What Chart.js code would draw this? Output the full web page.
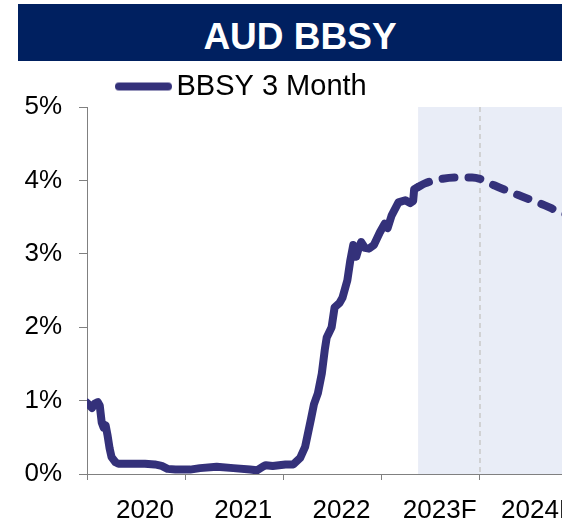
<!DOCTYPE html>
<html>
<head>
<meta charset="utf-8">
<script src="https://cdn.jsdelivr.net/npm/chart.js@4.4.0/dist/chart.umd.min.js"></script>
<style>
  html, body { margin: 0; padding: 0; overflow: hidden; background: #fff; }
  #wrap { position: relative; width: 620px; height: 524px; }
  #chart { position: absolute; left: 0; top: 0; }
  #banner {
    position: absolute; left: 18px; top: 4px; width: 564px; height: 57px;
    background: #002060; color: #fff; text-align: center; overflow: hidden;
    font: bold 37px "Liberation Sans", Arial, sans-serif;
  }
  #banner span { position: relative; top: 12px; }
</style>
</head>
<body>
<div id="wrap">
  <canvas id="chart" width="620" height="524"></canvas>
  <div id="banner"><span>AUD BBSY</span></div>
</div>
<script>
// actual BBSY 3M (x in years, y in %)
const histYears = [2020.00, 2020.03, 2020.05, 2020.08, 2020.11, 2020.13, 2020.15, 2020.17, 2020.19, 2020.21,
  2020.23, 2020.25, 2020.29, 2020.32, 2020.44, 2020.59, 2020.69, 2020.76, 2020.82, 2020.90,
  2021.05, 2021.15, 2021.32, 2021.49, 2021.66, 2021.73, 2021.79, 2021.82, 2021.89, 2022.02,
  2022.10, 2022.17, 2022.22, 2022.25, 2022.28, 2022.31, 2022.35, 2022.39, 2022.42, 2022.44,
  2022.49, 2022.52, 2022.57, 2022.60, 2022.65, 2022.68, 2022.71, 2022.74, 2022.76, 2022.79,
  2022.83, 2022.87, 2022.92, 2022.98, 2023.03, 2023.06, 2023.10, 2023.17, 2023.24, 2023.29,
  2023.32, 2023.33, 2023.37];
const histRates = [0.97, 0.93, 0.90, 0.96, 0.98, 0.93, 0.70, 0.63, 0.66, 0.52,
  0.35, 0.23, 0.16, 0.14, 0.14, 0.14, 0.13, 0.11, 0.07, 0.06,
  0.06, 0.08, 0.10, 0.08, 0.06, 0.05, 0.10, 0.12, 0.11, 0.13,
  0.13, 0.22, 0.37, 0.56, 0.75, 0.95, 1.10, 1.37, 1.69, 1.86,
  2.00, 2.27, 2.33, 2.40, 2.64, 2.91, 3.12, 2.96, 3.05, 3.16,
  3.08, 3.07, 3.12, 3.29, 3.41, 3.35, 3.52, 3.70, 3.73, 3.69,
  3.72, 3.88, 3.91];

// forecast path
const fcYears = [2023.37, 2023.44, 2023.57, 2023.75, 2023.92, 2024.00, 2024.15, 2024.39, 2024.66, 2024.83, 2025.10];
const fcRates = [3.91, 3.96, 4.01, 4.04, 4.04, 4.02, 3.93, 3.80, 3.66, 3.56, 3.46];

const yearTicks = [2020, 2021, 2022, 2023, 2024, 2025];
const yearLabels = ['2020', '2021', '2022', '2023F', '2024F'];
const forecastStart = 2023.37;
const forecastDivider = 2024;

const navy = '#34317A';
const fontFamily = '"Liberation Sans", Arial, sans-serif';
const labelShift = 0.59;

// legend swatch: thick rounded line
function legendLine() {
  const c = document.createElement('canvas');
  c.width = 57; c.height = 10;
  const g = c.getContext('2d');
  g.strokeStyle = navy;
  g.lineWidth = 8;
  g.lineCap = 'round';
  g.beginPath();
  g.moveTo(4, 5);
  g.lineTo(53, 5);
  g.stroke();
  return c;
}

// shaded forecast region + dashed divider
const forecastShade = {
  id: 'forecastShade',
  beforeDraw(chart) {
    const { ctx, chartArea, scales: { x } } = chart;
    const x0 = x.getPixelForValue(forecastStart);
    ctx.save();
    ctx.fillStyle = '#E9EDF7';
    ctx.fillRect(x0, chartArea.top, chartArea.right - x0, chartArea.bottom - chartArea.top);
    const xd = x.getPixelForValue(forecastDivider);
    ctx.strokeStyle = '#C8C8C8';
    ctx.lineWidth = 1.5;
    ctx.setLineDash([5, 4]);
    ctx.beginPath();
    ctx.moveTo(xd, chartArea.top);
    ctx.lineTo(xd, chartArea.bottom);
    ctx.stroke();
    ctx.restore();
  }
};

// fixed legend block height so the plot starts at the right place
const legendHeight = {
  id: 'legendHeight',
  beforeLayout(chart) {
    const lg = chart.legend;
    if (lg && !lg._fixedHeight) {
      const fit = lg.fit;
      lg.fit = function () { fit.call(this); this.height = 73; };
      lg._fixedHeight = true;
    }
  }
};

new Chart(document.getElementById('chart'), {
  type: 'line',
  data: {
    datasets: [{
      label: 'BBSY 3 Month',
      data: histYears.map((x, i) => ({ x: x, y: histRates[i] })),
      borderColor: navy,
      borderWidth: 8,
      borderCapStyle: 'round',
      borderJoinStyle: 'round',
      pointRadius: 0,
      tension: 0
    }, {
      label: 'Forecast',
      data: fcYears.map((x, i) => ({ x: x, y: fcRates[i] })),
      borderColor: navy,
      borderWidth: 8,
      borderDash: [12, 14],
      borderCapStyle: 'round',
      pointRadius: 0,
      cubicInterpolationMode: 'monotone'
    }]
  },
  options: {
    responsive: false,
    animation: false,
    layout: { padding: { top: 34, left: 0, right: 0, bottom: 0 } },
    plugins: {
      title: { display: false },
      tooltip: { enabled: false },
      legend: {
        position: 'top',
        align: 'start',
        fullSize: false,
        labels: {
          usePointStyle: true,
          pointStyle: legendLine(),
          pointStyleWidth: 37,
          padding: 38,
          color: '#000',
          font: { family: fontFamily, size: 29 },
          filter: item => item.datasetIndex === 0
        }
      }
    },
    scales: {
      x: {
        type: 'linear',
        min: 2020,
        max: 2025.425,
        afterBuildTicks(scale) {
          const t = yearTicks.map(v => ({ value: v, lbl: '' }))
            .concat(yearLabels.map((l, i) => ({ value: yearTicks[i] + labelShift, lbl: l })));
          t.sort((a, b) => a.value - b.value);
          scale.ticks = t;
        },
        afterFit(scale) { scale.height = 50; },
        ticks: {
          autoSkip: false,
          maxRotation: 0,
          color: '#000',
          padding: 15,
          font: { family: fontFamily, size: 26 },
          callback: (v, i, ticks) => ticks[i].lbl
        },
        grid: {
          drawOnChartArea: false,
          tickLength: 6,
          tickColor: ctx => (ctx.tick && ctx.tick.lbl) ? 'rgba(0,0,0,0)' : '#808080'
        },
        border: { color: '#808080', width: 1 }
      },
      y: {
        min: 0,
        max: 5,
        afterFit(scale) { scale.width = 87; },
        ticks: {
          stepSize: 1,
          color: '#000',
          padding: 17,
          font: { family: fontFamily, size: 26 },
          callback: v => v + '%'
        },
        grid: { drawOnChartArea: false, tickLength: 8, tickColor: '#808080' },
        border: { color: '#808080', width: 1 }
      }
    }
  },
  plugins: [forecastShade, legendHeight]
});
</script>
</body>
</html>
